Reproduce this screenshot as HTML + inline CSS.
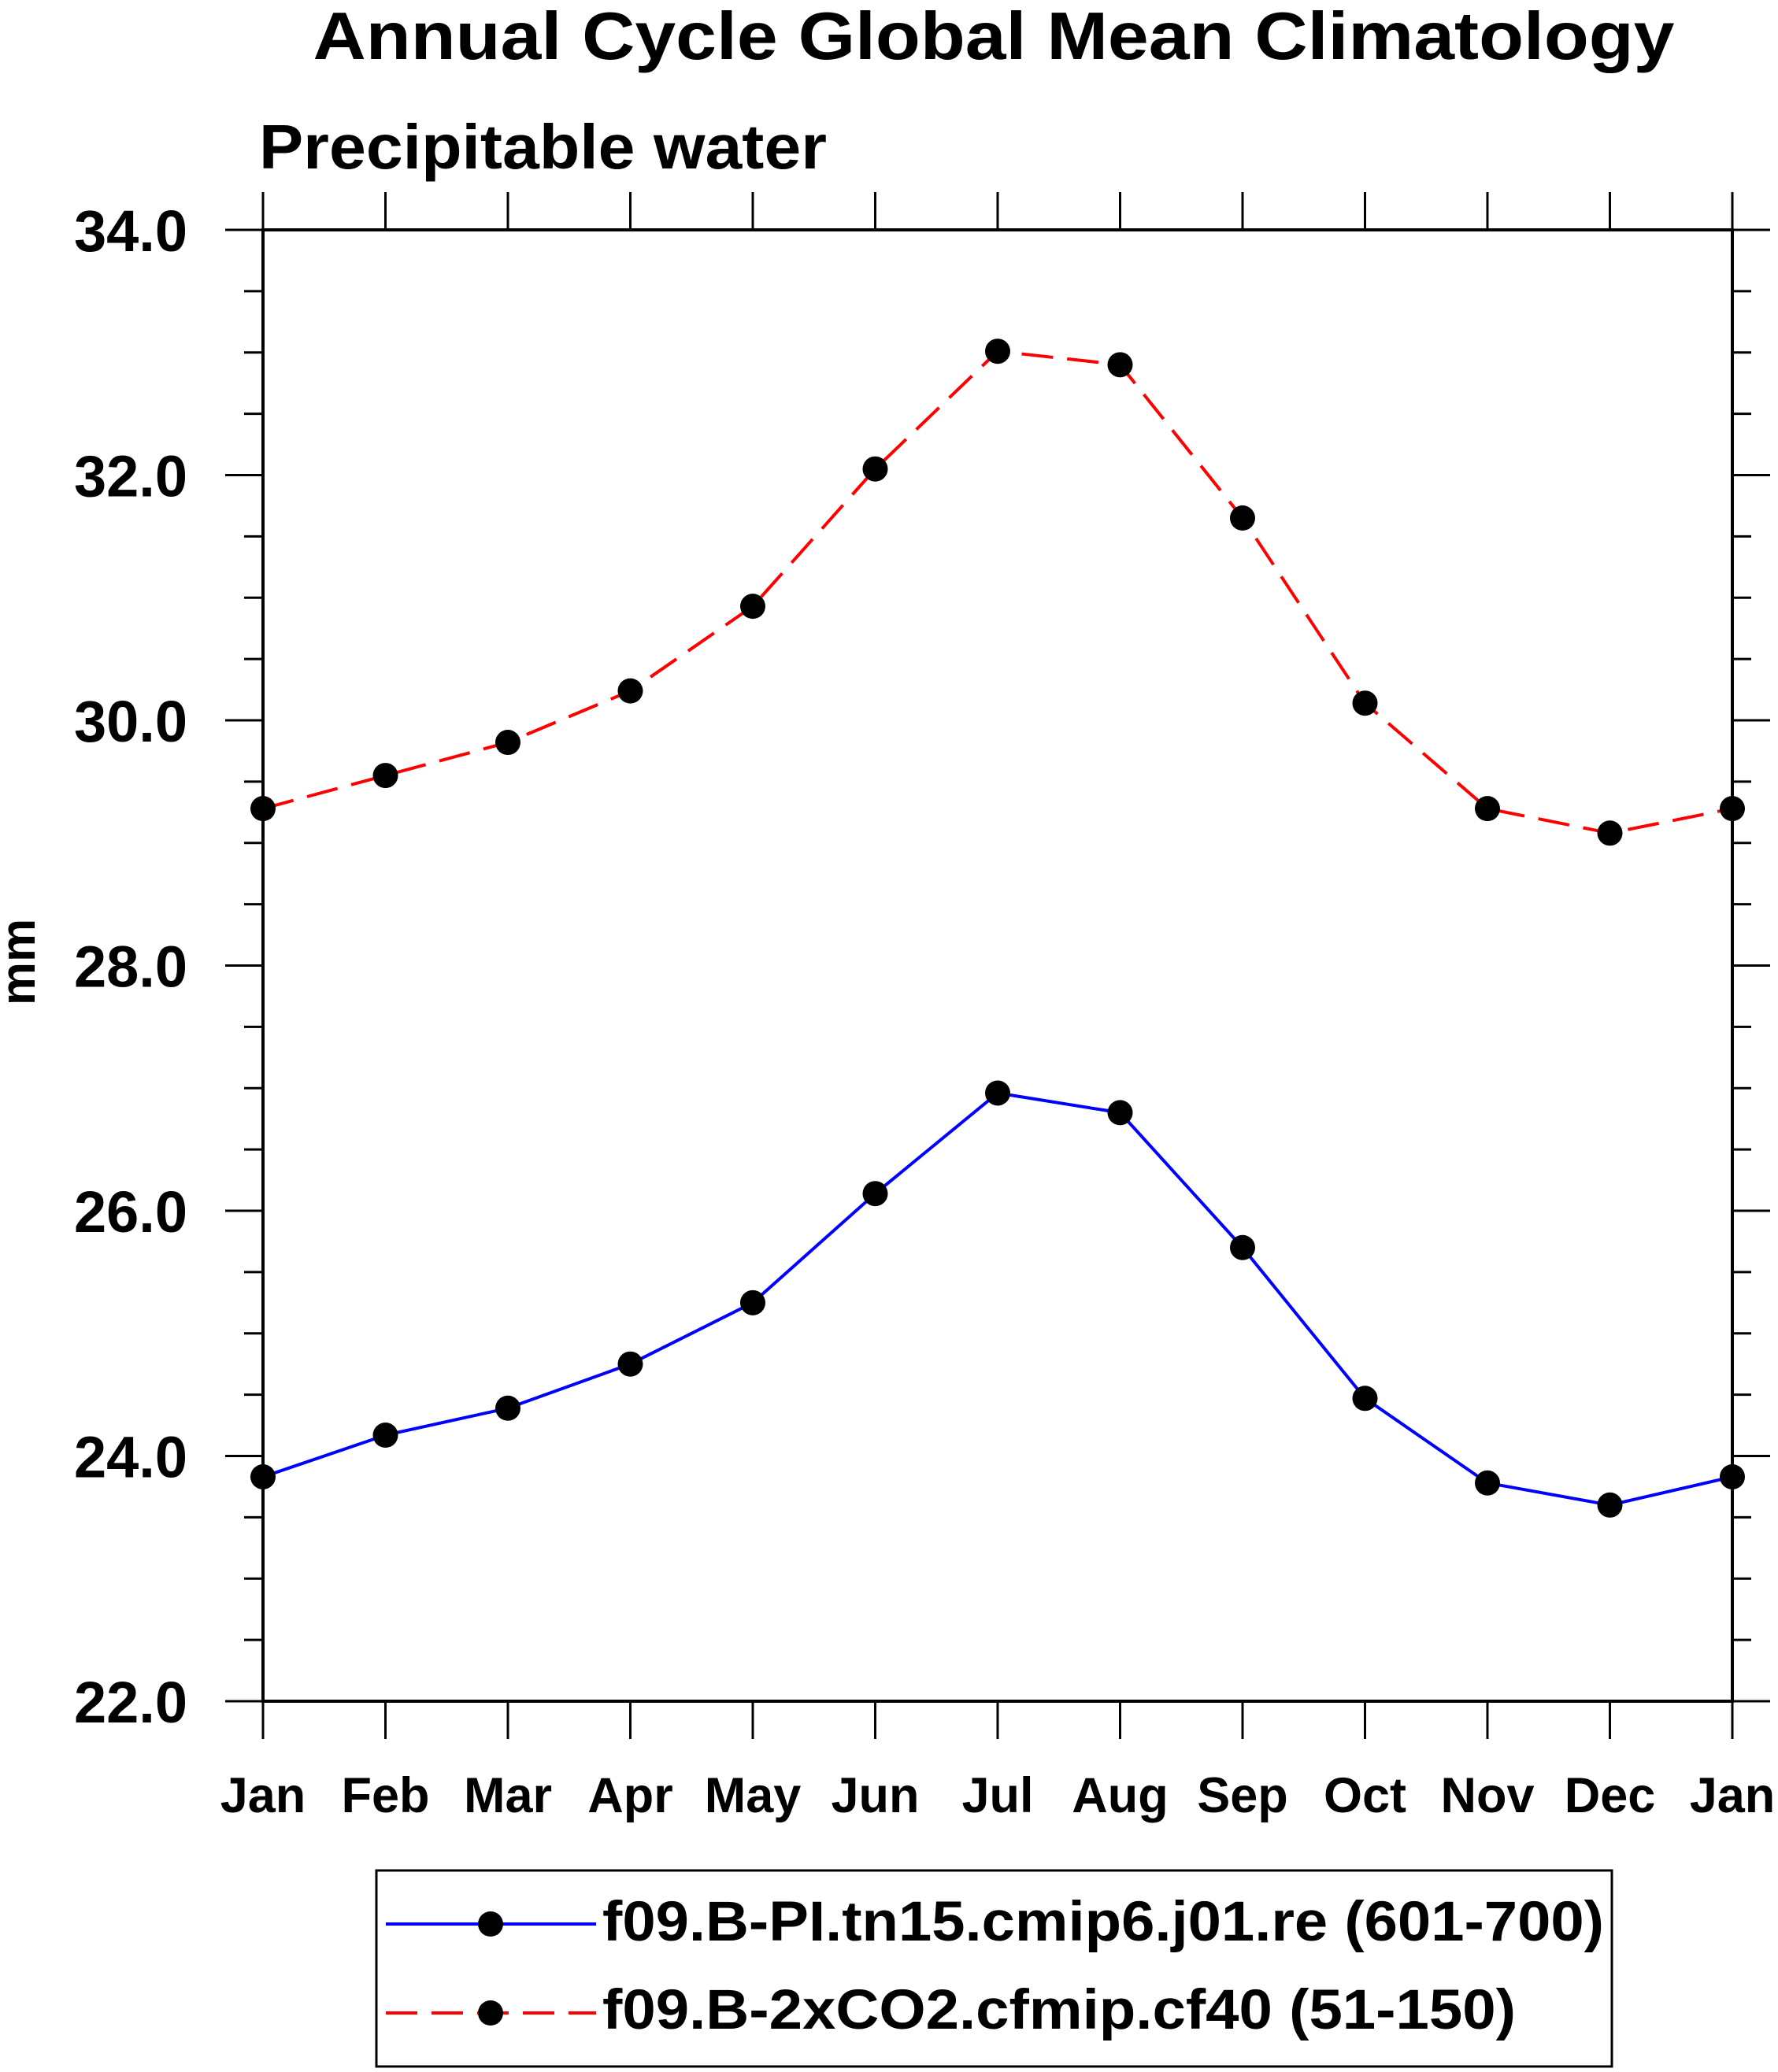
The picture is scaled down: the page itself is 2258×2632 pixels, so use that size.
<!DOCTYPE html>
<html><head><meta charset="utf-8"><style>
html,body{margin:0;padding:0;background:#fff;}
svg{display:block;font-family:"Liberation Sans",Arial,sans-serif;font-weight:bold;}
</style></head><body>
<svg id="chart" width="2258" height="2632" viewBox="0 0 2258 2632">
<text x="1262" y="75" text-anchor="middle" font-size="85" textLength="1729" lengthAdjust="spacingAndGlyphs">Annual Cycle Global Mean Climatology</text>
<text x="329" y="214" font-size="80" textLength="721" lengthAdjust="spacingAndGlyphs">Precipitable water</text>
<text transform="translate(44,1222) rotate(-90)" text-anchor="middle" font-size="62">mm</text>
<g id="axes"></g>
<g id="series"></g>
<g>
<rect x="478" y="2376" width="1569" height="249" fill="none" stroke="#000" stroke-width="3"/>
<g>
<line x1="490" y1="2444" x2="757" y2="2444" stroke="#0000ff" stroke-width="4"/>
<circle cx="623" cy="2444" r="16" fill="#000"/>
<text x="765" y="2465" font-size="71" textLength="1272" lengthAdjust="spacingAndGlyphs">f09.B-PI.tn15.cmip6.j01.re (601-700)</text>
</g>
<g>
<line x1="490" y1="2557" x2="757" y2="2557" stroke="#ff0000" stroke-width="4" stroke-dasharray="40,18"/>
<circle cx="623" cy="2557" r="16" fill="#000"/>
<text x="765" y="2577" font-size="71" textLength="1160" lengthAdjust="spacingAndGlyphs">f09.B-2xCO2.cfmip.cf40 (51-150)</text>
</g>
</g>
</svg>
<script>
const months = ["Jan","Feb","Mar","Apr","May","Jun","Jul","Aug","Sep","Oct","Nov","Dec","Jan"];
const piValues = [23.83,24.17,24.39,24.75,25.25,26.14,26.96,26.80,25.70,24.47,23.78,23.60,23.83];
const co2Values = [29.28,29.55,29.82,30.24,30.93,32.05,33.01,32.90,31.65,30.14,29.28,29.08,29.28];
const yTickLabels = ["22.0","24.0","26.0","28.0","30.0","32.0","34.0"];
const yMin = 22, yMax = 34;

const L=334, R=2200, T=292, B=2161;
const NS="http://www.w3.org/2000/svg";
function xs(i){return L+(R-L)*i/(months.length-1);}
function ys(v){return B-(B-T)*(v-yMin)/(yMax-yMin);}
function mk(tag,attrs,parent){const e=document.createElementNS(NS,tag);for(const k in attrs)e.setAttribute(k,attrs[k]);parent.appendChild(e);return e;}
const axes=document.getElementById('axes');
const frame=mk('rect',{x:L,y:T,width:R-L,height:B-T,fill:'none',stroke:'#000','stroke-width':4},axes);


months.forEach((m,i)=>{
  const x=xs(i);
  const t1=mk('line',{x1:x,y1:B,x2:x,y2:B+48,stroke:'#000','stroke-width':3},axes);
  
  
  const t2=mk('line',{x1:x,y1:T,x2:x,y2:T-48,stroke:'#000','stroke-width':3},axes);
  
  
  const lb=mk('text',{x:x,y:2302,'text-anchor':'middle','font-size':63},axes);
  lb.textContent=m;
  
  
});
for(let v=yMin; v<=yMax+1e-9; v+=0.5){
  const y=ys(v);
  const major=Math.abs(v-Math.round(v/2)*2)<1e-9;
  const len=major?48:24;
  const a=mk('line',{x1:L-len,y1:y,x2:L,y2:y,stroke:'#000','stroke-width':3},axes);
  
  
  const b=mk('line',{x1:R,y1:y,x2:R+len,y2:y,stroke:'#000','stroke-width':3},axes);
  
  
}
yTickLabels.forEach(s=>{
  const v=parseFloat(s);
  const lb=mk('text',{x:238,y:ys(v)+27,'text-anchor':'end','font-size':74},axes);
  lb.textContent=s;
  
  
});
const series=document.getElementById('series');
function draw(vals,color,dash,name){
  const g=mk('g',{},series);
  
  
  const pts=vals.map((v,i)=>xs(i)+','+ys(v)).join(' ');
  const pl=mk('polyline',{points:pts,fill:'none',stroke:color,'stroke-width':4,'stroke-dasharray':dash},g);
  
  
  vals.forEach((v,i)=>{
    const c=mk('circle',{cx:xs(i),cy:ys(v),r:16,fill:'#000'},g);
    
    
  });
}
draw(co2Values,'#ff0000','40,18','series-2xco2');
draw(piValues,'#0000ff','none','series-pi');
</script>
</body></html>
